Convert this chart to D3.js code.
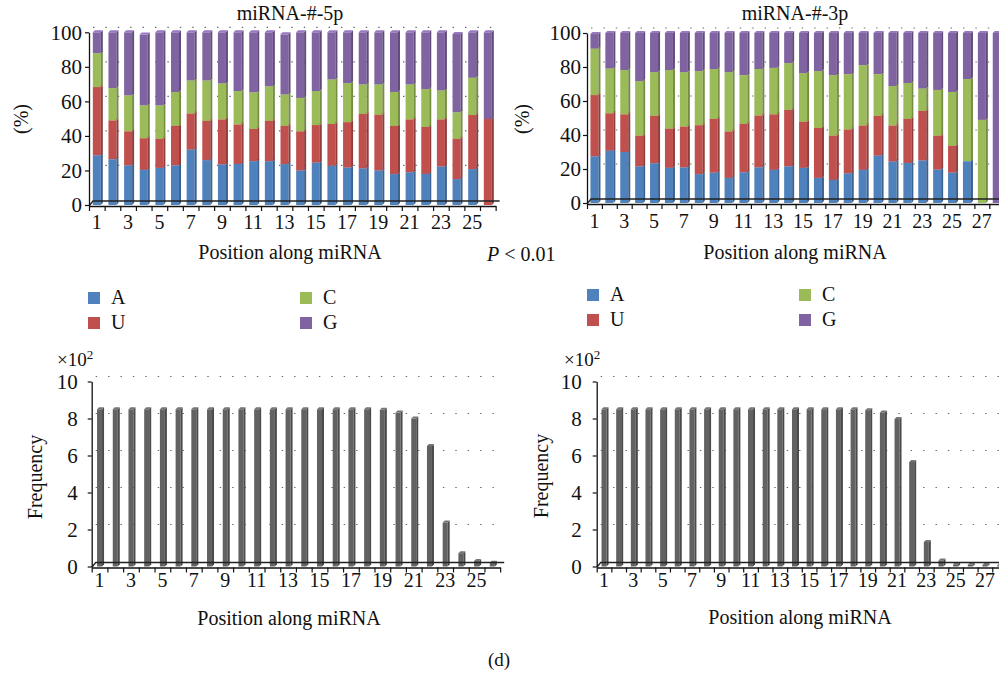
<!DOCTYPE html>
<html>
<head>
<meta charset="utf-8">
<script src="https://cdn.jsdelivr.net/npm/d3@7"></script>
<style>
  body { margin: 0; background: #fff; }
  text { font-family: "Liberation Serif", "Times New Roman", serif; fill: #111; }
</style>
</head>
<body>
<svg width="999" height="674"></svg>
<script>
// nucleotide composition (%) per position
const bases = ["A", "U", "C", "G"];
const baseColors = ["#4f81bd", "#c0504d", "#9bbb59", "#8064a2"];

const a5p = [28.8, 26.5, 23.0, 20.4, 21.5, 23.0, 32.1, 26.0, 23.5, 23.8, 25.4, 25.4, 23.7, 20.0, 24.6, 22.7, 21.7, 21.2, 20.0, 17.9, 19.0, 18.0, 22.3, 15.0, 20.8, 0];
const u5p = [39.5, 22.5, 19.7, 18.3, 16.8, 22.8, 20.9, 22.7, 26.1, 22.9, 18.6, 23.3, 22.1, 22.7, 21.7, 24.2, 26.3, 31.5, 32.3, 27.9, 30.6, 27.2, 27.3, 23.3, 31.3, 49.8];
const c5p = [19.6, 18.7, 20.8, 19.0, 19.4, 19.6, 19.1, 23.4, 20.8, 19.3, 21.2, 20.0, 18.2, 19.3, 19.7, 25.8, 22.6, 17.1, 17.5, 19.6, 20.2, 21.9, 16.7, 15.4, 21.6, 0];
const g5p = [12.1, 32.3, 36.5, 41.0, 42.3, 34.6, 27.9, 27.9, 29.6, 34.0, 34.8, 31.3, 34.8, 38.0, 34.0, 27.3, 29.4, 30.2, 30.2, 34.6, 30.2, 32.9, 33.7, 45.3, 26.3, 50.2];

const a3p = [27.5, 30.8, 30.0, 21.6, 23.4, 20.7, 21.0, 17.0, 17.9, 14.8, 18.1, 21.0, 19.5, 21.6, 20.7, 14.8, 13.6, 17.5, 19.5, 27.9, 24.4, 23.6, 25.1, 19.7, 17.9, 24.6, 0, 0];
const u3p = [36.0, 22.0, 22.2, 18.0, 27.9, 23.0, 24.0, 28.8, 31.6, 27.3, 28.5, 30.5, 32.7, 33.2, 27.1, 29.4, 26.0, 25.8, 26.1, 23.4, 21.2, 25.9, 29.1, 19.9, 15.8, 0, 0, 0];
const c3p = [27.3, 26.3, 26.0, 32.1, 25.7, 34.5, 32.0, 31.8, 29.3, 34.9, 28.6, 27.3, 27.3, 27.5, 28.6, 33.4, 35.6, 32.5, 35.5, 24.5, 23.2, 21.1, 13.1, 26.9, 31.6, 48.3, 48.9, 0];
const g3p = [8.6, 20.9, 21.8, 28.3, 23.0, 21.8, 23.0, 22.4, 21.2, 23.0, 24.8, 21.2, 20.5, 17.7, 23.6, 22.4, 24.8, 24.2, 18.9, 24.2, 31.2, 29.4, 32.7, 33.5, 34.7, 27.1, 51.1, 100];

// read frequency per position, in hundreds
const freq5p = [8.5, 8.5, 8.5, 8.5, 8.5, 8.5, 8.5, 8.5, 8.5, 8.5, 8.5, 8.5, 8.5, 8.5, 8.5, 8.5, 8.5, 8.5, 8.47, 8.32, 8.0, 6.52, 2.38, 0.72, 0.3, 0.2];
const freq3p = [8.5, 8.5, 8.5, 8.5, 8.5, 8.5, 8.5, 8.5, 8.5, 8.5, 8.5, 8.5, 8.5, 8.5, 8.5, 8.5, 8.5, 8.5, 8.45, 8.33, 7.97, 5.65, 1.33, 0.33, 0.12, 0.1, 0.08, 0.06];

const pctTicks = [0, 20, 40, 60, 80, 100];
const freqTicks = [0, 2, 4, 6, 8, 10];

const FONT = '"Liberation Serif", "Times New Roman", serif';
const svg = d3.select("svg");
const depth = { dx: 4, dy: -5 };

function panel(opt) {
    const g = svg.append("g");
    const n = opt.n;
    const right = opt.left + opt.step * n;
    const positions = d3.range(1, n + 1);
    const x = d3.scaleBand().domain(positions).range([opt.left, right]);
    const xb = d3.scaleLinear().domain([0, n]).range([opt.left, right]);
    const y = d3.scaleLinear().domain([0, opt.max]).range([opt.bottom, opt.top]);

    // dotted gridlines on the back wall
    g.selectAll("line.grid").data(opt.ticks.slice(1)).join("line")
        .attr("x1", opt.left + depth.dx).attr("x2", right + depth.dx)
        .attr("y1", d => y(d) + depth.dy).attr("y2", d => y(d) + depth.dy)
        .attr("stroke", "#666").attr("stroke-width", 1.2)
        .attr("stroke-dasharray", "1.4,11");

    // bars
    const w = opt.barWidth, sd = 2;
    positions.forEach((p, i) => {
        const cx = x(p) + x.bandwidth() / 2;
        const x0 = cx - w / 2;
        let cum = 0;
        opt.series.forEach((vals, k) => {
            const v = vals[i];
            if (v <= 0) return;
            const yb = y(cum), yt = y(cum + v);
            cum += v;
            const col = d3.color(opt.colors[k]);
            g.append("rect").attr("x", x0).attr("y", yt)
                .attr("width", w).attr("height", Math.max(0, yb - yt))
                .attr("fill", col.formatHex());
            g.append("polygon")
                .attr("points", [[x0 + w, yt], [x0 + w + sd, yt - sd], [x0 + w + sd, yb - sd], [x0 + w, yb]].join(" "))
                .attr("fill", col.darker(0.8).formatHex());
            g.append("polygon")
                .attr("points", [[x0, yt], [x0 + sd, yt - sd], [x0 + w + sd, yt - sd], [x0 + w, yt]].join(" "))
                .attr("fill", col.brighter(0.5).formatHex());
        });
    });

    // floor
    const y0 = y(0);
    g.append("path")
        .attr("d", `M${opt.left},${y0 + 1}L${opt.left + depth.dx},${y0 + 1 + depth.dy}L${right + depth.dx},${y0 + 1 + depth.dy}`)
        .attr("fill", "none").attr("stroke", "#222").attr("stroke-width", 1.3);

    // y axis
    const ya = g.append("g").attr("transform", `translate(${opt.left},0)`)
        .call(d3.axisLeft(y).tickValues(opt.ticks).tickSize(4).tickPadding(opt.yPad).tickSizeOuter(0))
        .attr("font-family", FONT).attr("font-size", 21);
    ya.select(".domain").attr("stroke", "#111").attr("stroke-width", 1.3);
    ya.selectAll(".tick line").attr("stroke", "#111").attr("stroke-width", 1.2);
    ya.selectAll("text").attr("fill", "#111");

    // x axis: marks at band boundaries, labels at odd positions
    const xa = g.append("g").attr("transform", `translate(0,${y0 + 1})`)
        .call(d3.axisBottom(xb).tickValues(d3.range(0, n + 1)).tickFormat("").tickSize(5).tickSizeOuter(0));
    xa.select(".domain").attr("stroke", "#111").attr("stroke-width", 1.3);
    xa.selectAll(".tick line").attr("stroke", "#111").attr("stroke-width", 1.2);

    g.selectAll("text.xl").data(positions.filter(p => p % 2 === 1)).join("text")
        .attr("class", "xl")
        .attr("x", d => x(d) + x.bandwidth() / 2)
        .attr("y", y0 + opt.xLabelOff)
        .attr("text-anchor", "middle")
        .style("font-size", "20px")
        .text(d => d);

    g.append("text").attr("x", opt.titleX).attr("y", opt.xTitleY)
        .attr("text-anchor", "middle").style("font-size", "20px")
        .text("Position along miRNA");

    g.append("text")
        .attr("transform", `translate(${opt.yTitleX},${opt.yTitleY}) rotate(-90)`)
        .attr("text-anchor", "middle").style("font-size", "20px")
        .text(opt.yTitle);

    if (opt.title) {
        g.append("text").attr("x", opt.titleX).attr("y", 20)
            .attr("text-anchor", "middle").style("font-size", "20px")
            .text(opt.title);
    }
    if (opt.multiplier) {
        const t = g.append("text").attr("x", opt.multiplier[0]).attr("y", opt.multiplier[1])
            .style("font-size", "19px");
        t.append("tspan").text("\u00d710");
        t.append("tspan").attr("dy", -7).style("font-size", "13px").text("2");
    }
}

panel({
    n: 26, left: 89, step: 15.64, bottom: 205, top: 32.3, max: 100, ticks: pctTicks,
    series: [a5p, u5p, c5p, g5p], colors: baseColors, barWidth: 8,
    yPad: 3, xLabelOff: 24, titleX: 290, xTitleY: 259, title: "miRNA-#-5p",
    yTitle: "(%)", yTitleX: 28, yTitleY: 119
});
panel({
    n: 28, left: 587, step: 14.9, bottom: 203, top: 33, max: 100, ticks: pctTicks,
    series: [a3p, u3p, c3p, g3p], colors: baseColors, barWidth: 8,
    yPad: 2, xLabelOff: 25, titleX: 795, xTitleY: 259, title: "miRNA-#-3p",
    yTitle: "(%)", yTitleX: 529, yTitleY: 119
});
panel({
    n: 26, left: 91.7, step: 15.71, bottom: 566.5, top: 381.5, max: 10, ticks: freqTicks,
    series: [freq5p], colors: ["#626262"], barWidth: 5,
    yPad: 10, xLabelOff: 20, titleX: 289, xTitleY: 625,
    yTitle: "Frequency", yTitleX: 42, yTitleY: 477, multiplier: [57, 366]
});
panel({
    n: 28, left: 596.7, step: 14.65, bottom: 566.5, top: 381.5, max: 10, ticks: freqTicks,
    series: [freq3p], colors: ["#626262"], barWidth: 5,
    yPad: 11, xLabelOff: 20, titleX: 800, xTitleY: 624,
    yTitle: "Frequency", yTitleX: 548, yTitleY: 476, multiplier: [564, 366]
});

// legends
function legend(x0, y0, xc) {
    const items = [
        { k: 0, x: x0, y: y0 }, { k: 1, x: x0, y: y0 + 25 },
        { k: 2, x: xc, y: y0 }, { k: 3, x: xc, y: y0 + 25 }
    ];
    const lg = svg.append("g");
    lg.selectAll("rect").data(items).join("rect")
        .attr("x", d => d.x).attr("y", d => d.y).attr("width", 12).attr("height", 12)
        .attr("fill", d => baseColors[d.k]);
    lg.selectAll("text").data(items).join("text")
        .attr("x", d => d.x + 23).attr("y", d => d.y + 12)
        .style("font-size", "20px")
        .text(d => bases[d.k]);
}
legend(88, 292, 300);
legend(587, 289, 799);

// significance and panel label
const pt = svg.append("text").attr("x", 487).attr("y", 261).style("font-size", "20px");
pt.append("tspan").style("font-style", "italic").text("P");
pt.append("tspan").text(" < 0.01");

svg.append("text").attr("x", 499).attr("y", 666).attr("text-anchor", "middle")
    .style("font-size", "19px").text("(d)");
</script>
</body>
</html>
